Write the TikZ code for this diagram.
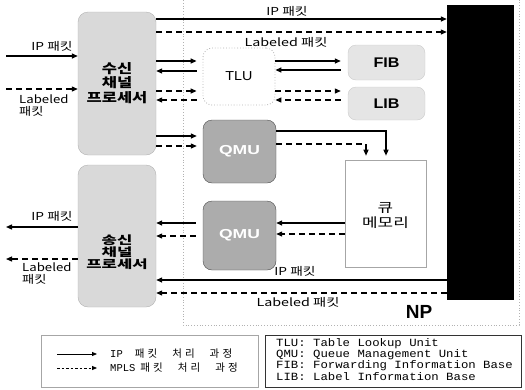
\documentclass[tikz,border=0pt]{standalone}
\usepackage{fontspec}
\newfontfamily\kr{Noto Sans CJK KR}
\newfontfamily\krls{Noto Sans CJK KR}[LetterSpace=30]
\newfontfamily\ar{Liberation Sans}
\newfontfamily\mono{Liberation Mono}
\usetikzlibrary{arrows.meta}
\newcommand\wx[2]{\scalebox{#1}[1]{#2}}
\begin{document}
\begin{tikzpicture}[x=1pt,y=-1pt,
  tip/.style={-{Triangle[length=6pt,width=5pt]}},
  ip/.style={tip,line width=1.3pt},
  mp/.style={tip,line width=1.2pt,dash pattern=on 6pt off 4pt},
  lip/.style={-{Triangle[length=5pt,width=4pt]},line width=0.8pt},
  lmp/.style={-{Triangle[length=5pt,width=4pt]},line width=0.8pt,dash pattern=on 2.5pt off 2pt},
  proc/.style={draw=gray!60,fill=gray!30,rounded corners=10pt,minimum width=78pt,inner sep=0pt},
  tbl/.style={draw=gray!40,fill=gray!20,rounded corners=8pt,minimum width=77pt,inner sep=0pt,font=\ar\bfseries\fontsize{14}{15}\selectfont},
  qmu/.style={draw=black!70,fill=gray!65,rounded corners=9pt,minimum width=73pt,inner sep=0pt,font=\ar\bfseries\fontsize{13}{14}\selectfont,text=white},
  lbl/.style={font=\kr\fontsize{11}{12}\selectfont,inner sep=0pt},
  ptext/.style={font=\kr\bfseries\fontsize{13}{14.5}\selectfont,align=center,inner sep=0pt},
]
\useasboundingbox (0,0) rectangle (525,389);
% NP frame
\draw[gray!60,dotted,line width=0.8pt] (183,0) -- (183,325) -- (519,325) -- (519,0);
% blocks
\node[proc,minimum height=143pt] (rx) at (117,83.5) {};
\node[proc,minimum height=142pt] (tx) at (117,236) {};
\node[ptext] (rxt) at (117,83) {\wx{1.27}{수신}\\\wx{1.27}{채널}\\\wx{1.27}{프로세서}};
\node[ptext,font=\kr\bfseries\fontsize{11.5}{12}\selectfont] (txt) at (117,252) {\wx{1.45}{송신}\\\wx{1.45}{채널}\\\wx{1.45}{프로세서}};
\node[draw=gray!60,dotted,line width=0.8pt,fill=white,rounded corners=9pt,minimum width=72pt,minimum height=57pt,inner sep=0pt,font=\ar\fontsize{13}{14}\selectfont] (tlu) at (239,76.5) {\wx{1.1}{TLU}};
\node[qmu,minimum height=63pt] (q1) at (239.5,151.5) {\wx{1.35}{QMU}};
\node[qmu,minimum height=69pt] (q2) at (239.5,235.5) {\wx{1.35}{QMU}};
\node[tbl,minimum height=35pt] (fib) at (386.5,62.5) {\wx{1.15}{FIB}};
\node[tbl,minimum height=33pt] (lib) at (386.5,103.5) {\wx{1.15}{LIB}};
\node[draw=gray!70,line width=0.6pt,fill=white,minimum width=81pt,minimum height=107pt,inner sep=0pt] (qm) at (385.5,213.5) {};
\node[align=center,inner sep=0pt,font=\kr\fontsize{13}{15}\selectfont] (qmt) at (385.5,215.5) {\wx{1.3}{큐}\\\wx{1.3}{메모리}};
\node[fill=black,minimum width=67pt,minimum height=295pt,inner sep=0pt] (np) at (480.5,152.5) {};
\node[font=\ar\bfseries\fontsize{19}{20}\selectfont,inner sep=0pt] (nplbl) at (419,312) {NP};
% external input/output points
\coordinate (in1) at (6,56);
\coordinate (in2) at (6,89);
\coordinate (out1) at (6,227);
\coordinate (out2) at (6,259);
% input arrows
\draw[ip] (in1) -- (rx.west |- in1);
\draw[mp] (in2) -- (rx.west |- in2);
\node[lbl,anchor=south] (l1) at (52,52) {\wx{1.25}{IP 패킷}};
\node[lbl,anchor=north west,align=left] (l2) at (19,95) {\wx{1.2}{Labeled}\\\wx{1.2}{패킷}};
% output arrows
\draw[ip] (tx.west |- out1) -- (out1);
\draw[mp] (tx.west |- out2) -- (out2);
\node[lbl,anchor=south] (l3) at (52,222) {\wx{1.25}{IP 패킷}};
\node[lbl,anchor=north west,align=left] (l4) at (22,263) {\wx{1.2}{Labeled}\\\wx{1.2}{패킷}};
% top to NP
\draw[ip] (rx.east |- 0,19) -- (np.west |- 0,19);
\draw[mp] (rx.east |- 0,32) -- (np.west |- 0,32);
\node[lbl] (l5) at (287,11) {\wx{1.25}{IP 패킷}};
\node[lbl] (l6) at (286,42) {\wx{1.3}{Labeled 패킷}};
% receive <-> TLU
\draw[ip,shorten >=6pt] (rx.east |- 0,61) -- (tlu.west |- 0,61);
\draw[ip,shorten <=6pt] (tlu.west |- 0,71) -- (rx.east |- 0,71);
\draw[mp,shorten >=6pt] (rx.east |- 0,91) -- (tlu.west |- 0,91);
\draw[mp,shorten <=6pt] (tlu.west |- 0,100) -- (rx.east |- 0,100);
% receive -> QMU
\draw[ip,shorten >=6pt] (rx.east |- 0,136) -- (q1.west |- 0,136);
\draw[mp,shorten >=6pt] (rx.east |- 0,146) -- (q1.west |- 0,146);
% TLU <-> FIB/LIB
\draw[ip,shorten >=7pt] (tlu.east |- 0,61) -- (fib.west |- 0,61);
\draw[ip,shorten <=7pt] (fib.west |- 0,70) -- (tlu.east |- 0,70);
\draw[mp,shorten >=7pt] (tlu.east |- 0,91) -- (lib.west |- 0,91);
\draw[mp,shorten <=7pt] (lib.west |- 0,100) -- (tlu.east |- 0,100);
% QMU -> queue memory
\draw[ip,shorten >=4pt] (q1.east |- 0,131) -| (qm.north -| 386,0);
\draw[mp,shorten >=4pt] (q1.east |- 0,144) -| (qm.north -| 366,0);
% queue memory -> QMU2
\draw[ip] (qm.west |- 0,223) -- (q2.east |- 0,223);
\draw[mp] (qm.west |- 0,234) -- (q2.east |- 0,234);
% QMU2 -> transmit
\draw[ip,shorten <=7pt] (q2.west |- 0,223) -- (tx.east |- 0,223);
\draw[mp,shorten <=7pt] (q2.west |- 0,236) -- (tx.east |- 0,236);
% NP -> transmit
\draw[ip] (np.west |- 0,280) -- (tx.east |- 0,280);
\draw[mp] (np.west |- 0,293) -- (tx.east |- 0,293);
\node[lbl] (l7) at (295,271) {\wx{1.25}{IP 패킷}};
\node[lbl] (l8) at (298,302) {\wx{1.3}{Labeled 패킷}};
% legends
\node[draw=gray!70,line width=0.6pt,minimum width=217pt,minimum height=52pt,inner sep=0pt] (leg1) at (149.5,361) {};
\node[draw=black!80,line width=0.6pt,minimum width=256pt,minimum height=52pt,inner sep=0pt] (leg2) at (393,361) {};
\coordinate (la1) at (57,354);
\coordinate (lb1) at (97,354);
\coordinate (la2) at (57,368);
\coordinate (lb2) at (97,368);
\draw[lip] (la1) -- (lb1);
\draw[lmp] (la2) -- (lb2);
\node[anchor=west,inner sep=0pt] (lt1) at (110,354) {\mono\fontsize{10.5}{12}\selectfont IP\hspace{12pt}\krls\fontsize{10.5}{12}\selectfont 패킷\hspace{15pt}처리\hspace{15pt}과정};
\node[anchor=west,inner sep=0pt] (lt2) at (110,368) {\mono\fontsize{10.5}{12}\selectfont MPLS\hspace{5pt}\krls\fontsize{10.5}{12}\selectfont 패킷\hspace{15pt}처리\hspace{15pt}과정};
\node[anchor=north west,inner sep=0pt,align=left,font=\mono\fontsize{11}{11.3}\selectfont] (lt3) at (276,338) {\wx{1.12}{TLU: Table Lookup Unit}\\\wx{1.12}{QMU: Queue Management Unit}\\\wx{1.12}{FIB: Forwarding Information Base}\\\wx{1.12}{LIB: Label Information Base}};
\end{tikzpicture}
\end{document}
